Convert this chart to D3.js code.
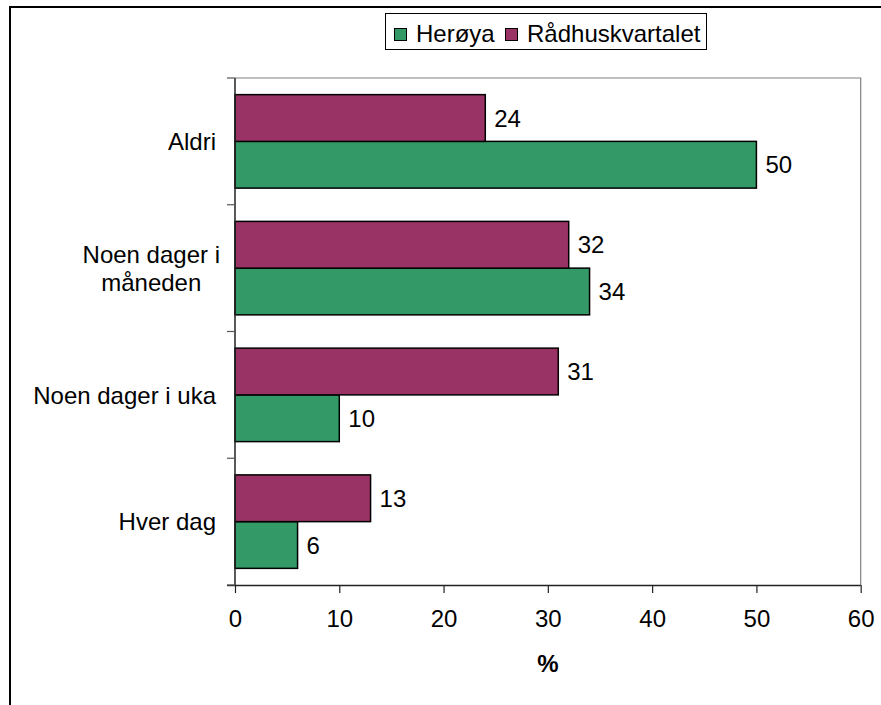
<!DOCTYPE html>
<html>
<head>
<meta charset="utf-8">
<script src="https://cdn.jsdelivr.net/npm/d3@7"></script>
<style>
  html, body { margin: 0; padding: 0; background: #fff; }
  svg { display: block; font-family: "Liberation Sans", Arial, sans-serif; }
</style>
</head>
<body>
<svg id="chart" width="881" height="705"></svg>
<script>
// Frequency per answer category, two areas
const categories = ["Aldri", "Noen dager i måneden", "Noen dager i uka", "Hver dag"];
const categoryLines = [["Aldri"], ["Noen dager i", "måneden"], ["Noen dager i uka"], ["Hver dag"]];
const seriesNames = ["Herøya", "Rådhuskvartalet"];
const heroya = [50, 34, 10, 6];
const radhuskvartalet = [24, 32, 31, 13];
const xTicks = [0, 10, 20, 30, 40, 50, 60];
const xTitle = "%";

const colors = { "Herøya": "#339966", "Rådhuskvartalet": "#993366" };
const valuesBySeries = { "Herøya": heroya, "Rådhuskvartalet": radhuskvartalet };

const svg = d3.select("#chart");
const margin = { left: 235, right: 20.3, top: 78, bottom: 120 };
const W = 881, H = 705;
const plotR = W - margin.right, plotB = H - margin.bottom;
const FONT = 24;

// outer frame
svg.append("rect")
  .attr("x", 10).attr("y", 7).attr("width", 900).attr("height", 720)
  .attr("fill", "#fff").attr("stroke", "#000").attr("stroke-width", 2);

const x = d3.scaleLinear().domain([0, 60]).range([margin.left, plotR]);
const y = d3.scaleBand().domain(categories).range([margin.top, plotB]).padding(0);
// within each category: Rådhuskvartalet above, Herøya below
const yInner = d3.scaleBand().domain(["Rådhuskvartalet", "Herøya"])
  .range([0, y.bandwidth()]).paddingInner(0).paddingOuter(0.356);

// plot area border (top and right)
svg.append("path")
  .attr("d", `M${margin.left},${margin.top}H${plotR}V${plotB}`)
  .attr("fill", "none").attr("stroke", "#808080").attr("stroke-width", 1.2);

// bars
const bars = [];
categories.forEach((c, i) => {
  seriesNames.forEach(s => bars.push({ cat: c, series: s, value: valuesBySeries[s][i] }));
});
svg.append("g").selectAll("rect").data(bars).join("rect")
  .attr("x", x(0))
  .attr("y", d => y(d.cat) + yInner(d.series))
  .attr("width", d => x(d.value) - x(0))
  .attr("height", yInner.bandwidth())
  .attr("fill", d => colors[d.series])
  .attr("stroke", "#000").attr("stroke-width", 1.5);

// value labels
svg.append("g").selectAll("text").data(bars).join("text")
  .attr("x", d => x(d.value) + 9)
  .attr("y", d => y(d.cat) + yInner(d.series) + yInner.bandwidth() / 2)
  .attr("dy", "0.36em")
  .attr("font-size", FONT)
  .attr("fill", "#000")
  .text(d => d.value);

// x axis
const xAxis = svg.append("g")
  .attr("transform", `translate(0,${plotB})`)
  .call(d3.axisBottom(x).tickValues(xTicks).tickSize(8).tickPadding(17).tickSizeOuter(0));
xAxis.select(".domain").attr("stroke", "#222").attr("stroke-width", 1.5)
  .attr("d", `M${margin.left - 8},0.5H${plotR}`);
xAxis.selectAll(".tick line").attr("stroke", "#222").attr("stroke-width", 1.2);
xAxis.selectAll(".tick text").attr("font-size", FONT).attr("fill", "#000")
  .attr("font-family", "Liberation Sans, Arial, sans-serif");

// y axis: line with ticks at category boundaries
const yAxis = svg.append("g");
yAxis.append("line")
  .attr("x1", margin.left).attr("x2", margin.left)
  .attr("y1", margin.top).attr("y2", plotB)
  .attr("stroke", "#222").attr("stroke-width", 1.5);
const boundaries = categories.map(c => y(c)).concat([plotB]);
yAxis.selectAll("line.tk").data(boundaries).join("line").attr("class", "tk")
  .attr("x1", margin.left - 8).attr("x2", margin.left)
  .attr("y1", d => d).attr("y2", d => d)
  .attr("stroke", "#555").attr("stroke-width", 1.2);

// category labels (multi-line labels are centred within their block)
const labelRight = margin.left - 19;
const lineGap = 28;
categories.forEach((c, i) => {
  const lines = categoryLines[i];
  const cy = y(c) + y.bandwidth() / 2;
  const g = svg.append("g");
  const texts = lines.map((t, k) => g.append("text")
    .attr("y", cy + (k - (lines.length - 1) / 2) * lineGap)
    .attr("dy", "0.36em")
    .attr("font-size", FONT).attr("fill", "#000")
    .text(t));
  if (lines.length === 1) {
    texts[0].attr("x", labelRight).attr("text-anchor", "end");
  } else {
    const wmax = d3.max(texts, t => t.node().getComputedTextLength());
    texts.forEach(t => t.attr("x", labelRight - wmax / 2 + 4).attr("text-anchor", "middle"));
  }
});

// axis title
svg.append("text")
  .attr("x", (margin.left + plotR) / 2).attr("y", 672)
  .attr("text-anchor", "middle").attr("font-size", FONT).attr("font-weight", "bold")
  .attr("fill", "#000").text(xTitle);

// legend
const legend = svg.append("g");
legend.append("rect")
  .attr("x", 385.5).attr("y", 13.5).attr("width", 321).attr("height", 36)
  .attr("fill", "#fff").attr("stroke", "#000").attr("stroke-width", 1);
const legendX = [394, 505];
seriesNames.forEach((s, i) => {
  legend.append("rect")
    .attr("x", legendX[i] + 0.5).attr("y", 28.5).attr("width", 12).attr("height", 12)
    .attr("fill", colors[s]).attr("stroke", "#000").attr("stroke-width", 1);
  legend.append("text")
    .attr("x", legendX[i] + 22).attr("y", 41.5)
    .attr("font-size", FONT).attr("fill", "#000").text(s);
});
</script>
</body>
</html>
